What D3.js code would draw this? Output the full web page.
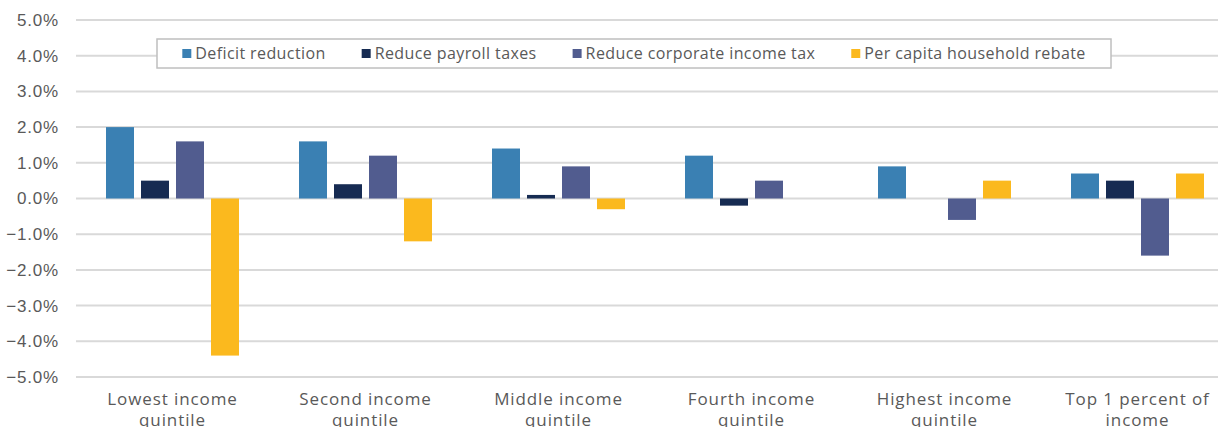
<!DOCTYPE html>
<html>
<head>
<meta charset="utf-8">
<script src="https://cdn.jsdelivr.net/npm/d3@7"></script>
<style>
  body { margin: 0; background: #fff; }
  svg { display: block; font-family: "Open Sans", sans-serif; }
</style>
</head>
<body>
<svg id="chart" width="1218" height="427"></svg>
<script>
// categories and series
const categories = [
  ["Lowest income", "quintile"],
  ["Second income", "quintile"],
  ["Middle income", "quintile"],
  ["Fourth income", "quintile"],
  ["Highest income", "quintile"],
  ["Top 1 percent of", "income"]
];
const seriesNames = ["Deficit reduction", "Reduce payroll taxes", "Reduce corporate income tax", "Per capita household rebate"];
const deficitReduction = [2.0, 1.6, 1.4, 1.2, 0.9, 0.7];
const reducePayroll = [0.5, 0.4, 0.1, -0.2, 0.0, 0.5];
const reduceCorporate = [1.6, 1.2, 0.9, 0.5, -0.6, -1.6];
const householdRebate = [-4.4, -1.2, -0.3, 0.0, 0.5, 0.7];
const yTicks = [5, 4, 3, 2, 1, 0, -1, -2, -3, -4, -5];

const colors = ["#3a80b3", "#162b52", "#515c8f", "#fbb91e"];
const textColor = "#595959";

const seriesValues = [deficitReduction, reducePayroll, reduceCorporate, householdRebate];

// chart area
const plot = { left: 76, right: 1234, top: 20, bottom: 377 };

const svg = d3.select("#chart");

const x = d3.scaleBand()
  .domain(d3.range(categories.length))
  .range([plot.left, plot.right])
  .paddingInner(0)
  .paddingOuter(0);

const x1 = d3.scaleBand()
  .domain(d3.range(seriesNames.length))
  .range([30, x.bandwidth() - 30])
  .paddingInner(0.2);

const y = d3.scaleLinear()
  .domain([-5, 5])
  .range([plot.bottom, plot.top]);

//gridlines
svg.append("g")
  .selectAll("line")
  .data(yTicks)
  .join("line")
  .attr("x1", plot.left)
  .attr("x2", plot.right)
  .attr("y1", d => y(d))
  .attr("y2", d => y(d))
  .attr("stroke", "#d9d9d9")
  .attr("stroke-width", 2);

//y-axis labels
const yAxis = svg.append("g")
  .attr("transform", `translate(${plot.left}, 0)`)
  .call(d3.axisLeft(y).tickValues(yTicks).tickSize(0).tickPadding(17)
    .tickFormat(d => d3.format(".1f")(d) + "%"));
yAxis.select(".domain").remove();
yAxis.selectAll("text")
  .attr("fill", textColor)
  .style("font-size", "17px")
  .style("letter-spacing", "0.8px");

// bars
const groups = svg.append("g")
  .selectAll("g")
  .data(categories)
  .join("g")
  .attr("transform", (d, i) => `translate(${x(i)}, 0)`);

groups.selectAll("rect")
  .data((d, i) => seriesValues.map((s, k) => ({ k: k, v: s[i] })))
  .join("rect")
  .attr("x", d => x1(d.k))
  .attr("width", x1.bandwidth())
  .attr("y", d => Math.min(y(d.v), y(0)))
  .attr("height", d => Math.abs(y(d.v) - y(0)))
  .attr("fill", d => colors[d.k]);

// category labels (second line runs off the bottom, as in the original)
const xLabels = svg.append("g")
  .selectAll("text")
  .data(categories)
  .join("text")
  .attr("x", (d, i) => x(i) + x.bandwidth() / 2)
  .attr("y", 405)
  .attr("text-anchor", "middle")
  .attr("fill", textColor)
  .style("font-size", "17px")
  .style("letter-spacing", "0.9px");
xLabels.selectAll("tspan")
  .data(d => d)
  .join("tspan")
  .attr("x", function () { return this.parentNode.getAttribute("x"); })
  .attr("dy", (d, i) => i === 0 ? 0 : 21)
  .text(d => d);

//LEGEND
const legendBox = { x: 157, y: 39, w: 954, h: 29 };
svg.append("rect")
  .attr("x", legendBox.x)
  .attr("y", legendBox.y)
  .attr("width", legendBox.w)
  .attr("height", legendBox.h)
  .attr("fill", "#fff")
  .attr("stroke", "#bfbfbf")
  .attr("stroke-width", 1.5);

const legend = svg.append("g");
const items = legend.selectAll("g")
  .data(seriesNames)
  .join("g");
items.append("rect")
  .attr("width", 9)
  .attr("height", 9)
  .attr("y", legendBox.y + legendBox.h / 2 - 4.5)
  .attr("fill", (d, i) => colors[i]);
items.append("text")
  .attr("x", 13)
  .attr("y", legendBox.y + legendBox.h / 2 + 5.5)
  .attr("fill", textColor)
  .style("font-size", "16px")
  .style("letter-spacing", "0.4px")
  .text(d => d);

// place legend items one after another, centered in the box
const gap = 36;
let widths = [];
items.each(function () { widths.push(13 + d3.select(this).select("text").node().getComputedTextLength()); });
const total = d3.sum(widths) + gap * (widths.length - 1);
let cx = legendBox.x + (legendBox.w - total) / 2;
items.each(function (d, i) {
  d3.select(this).attr("transform", `translate(${cx}, 0)`);
  cx += widths[i] + gap;
});
</script>
</body>
</html>
